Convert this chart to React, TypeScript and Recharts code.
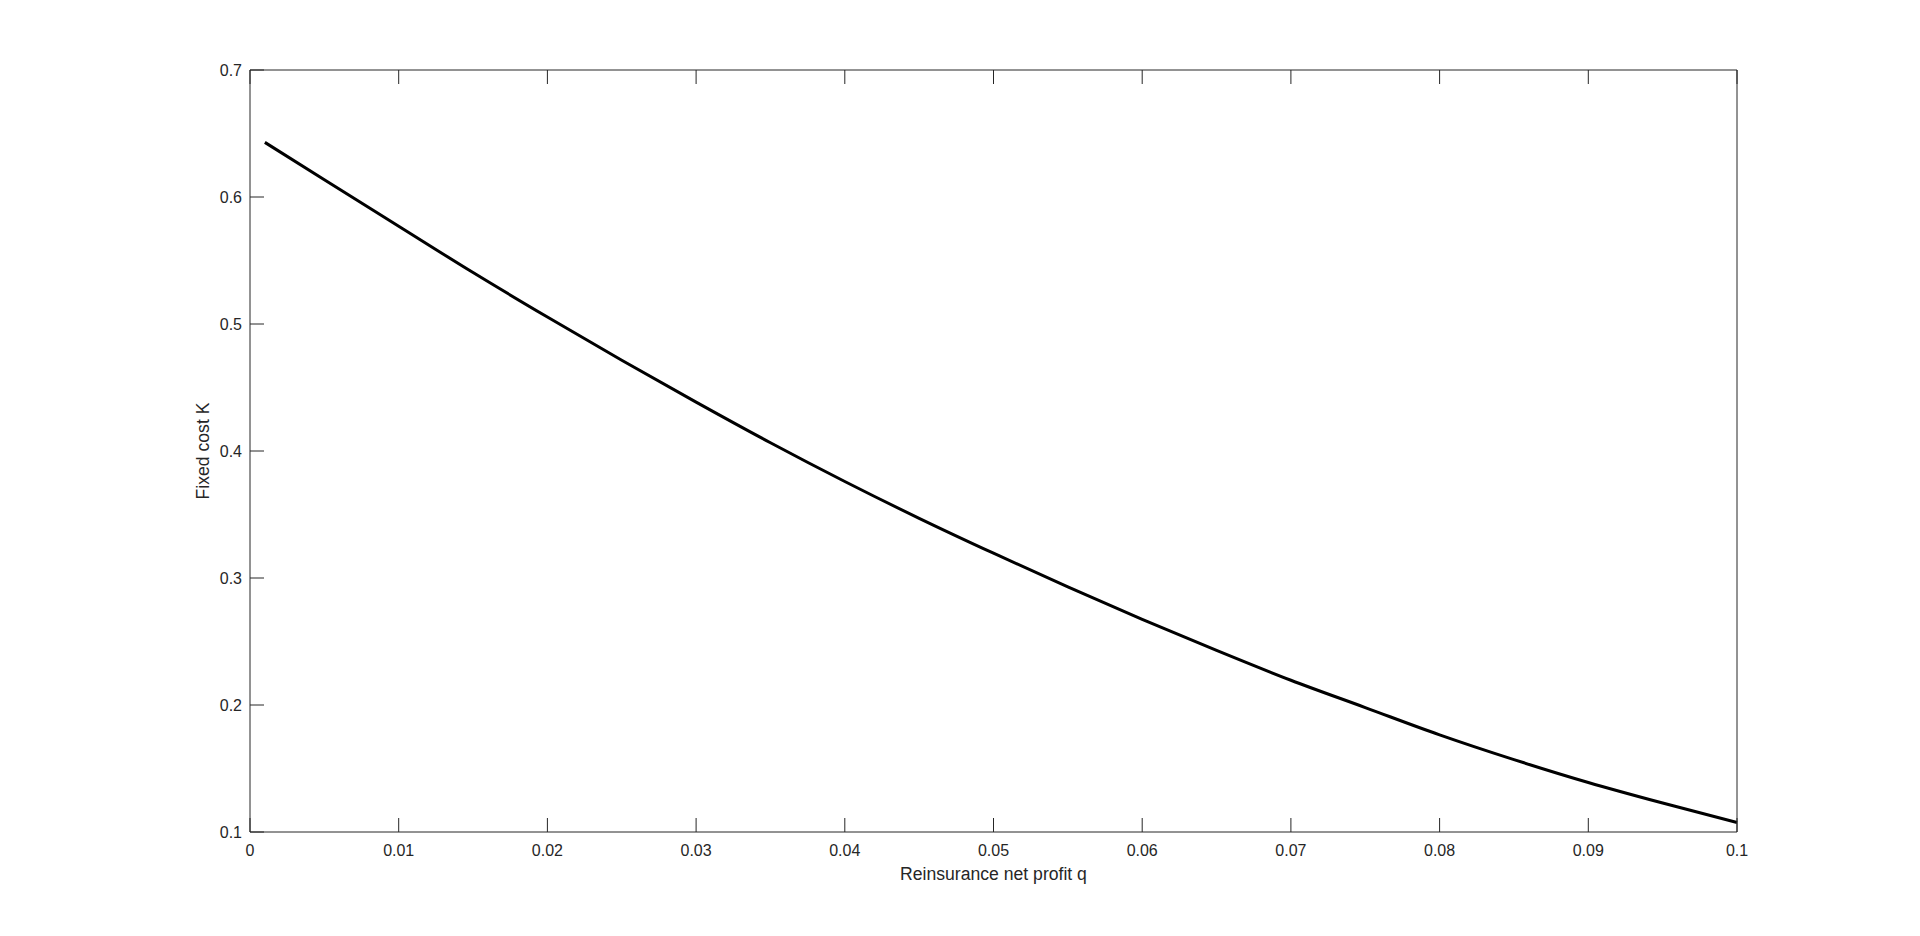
import React from 'react';
import { LineChart, Line, XAxis, YAxis } from 'recharts';

// reinsurance net profit q (x) and the fixed cost K
const qValues = [
    0.001, 0.005, 0.01, 0.015, 0.02, 0.025, 0.03, 0.035, 0.04, 0.045, 0.05,
    0.055, 0.06, 0.065, 0.07, 0.075, 0.08, 0.085, 0.09, 0.095, 0.1,
];
const kValues = [
    0.643, 0.6135, 0.577, 0.5405, 0.5055, 0.4715, 0.4385, 0.4065, 0.376, 0.347, 0.3195,
    0.293, 0.2675, 0.243, 0.2195, 0.198, 0.1765, 0.157, 0.139, 0.1228, 0.1075,
];

const xTicks = [0, 0.01, 0.02, 0.03, 0.04, 0.05, 0.06, 0.07, 0.08, 0.09, 0.1];
const yTicks = [0.1, 0.2, 0.3, 0.4, 0.5, 0.6, 0.7];

const data = qValues.map((q, i) => ({ q, k: kValues[i] }));

const AXIS = '#262626';
const FONT = 'Arial, "Liberation Sans", sans-serif';
const tickStyle = { fill: AXIS, fontSize: 16, fontFamily: FONT };
const blank = () => '';

export default function App() {
    return (
        <div style={{ position: 'absolute', left: 0, top: 0, background: '#fff' }}>
            <LineChart
                width={1920}
                height={936}
                data={data}
                margin={{ top: 69, right: 182, bottom: 74, left: 156 }}
            >
                <XAxis
                    xAxisId="bottom"
                    dataKey="q"
                    type="number"
                    domain={[0, 0.1]}
                    ticks={xTicks}
                    interval={0}
                    height={30}
                    stroke={AXIS}
                    tickSize={-14}
                    tickMargin={27}
                    tick={tickStyle}
                    tickFormatter={(v: number) => String(v)}
                    label={{
                        value: 'Reinsurance net profit q',
                        position: 'bottom',
                        offset: 6,
                        fill: AXIS,
                        fontSize: 17.6,
                        fontFamily: FONT,
                    }}
                />
                <XAxis
                    xAxisId="top"
                    orientation="top"
                    dataKey="q"
                    type="number"
                    domain={[0, 0.1]}
                    ticks={xTicks}
                    interval={0}
                    height={1}
                    stroke={AXIS}
                    tickSize={-14}
                    tick={tickStyle}
                    tickFormatter={blank}
                />
                <YAxis
                    yAxisId="left"
                    type="number"
                    domain={[0.1, 0.7]}
                    ticks={yTicks}
                    interval={0}
                    width={94}
                    stroke={AXIS}
                    tickSize={-14}
                    tickMargin={22}
                    tick={tickStyle}
                    tickFormatter={(v: number) => String(v)}
                    label={{
                        value: 'Fixed cost K',
                        angle: -90,
                        position: 'center',
                        fill: AXIS,
                        fontSize: 17.6,
                        fontFamily: FONT,
                    }}
                />
                <YAxis
                    yAxisId="right"
                    orientation="right"
                    type="number"
                    domain={[0.1, 0.7]}
                    ticks={yTicks}
                    interval={0}
                    width={1}
                    stroke={AXIS}
                    tickSize={-14}
                    tick={tickStyle}
                    tickFormatter={blank}
                />
                <Line
                    xAxisId="bottom"
                    yAxisId="left"
                    type="monotone"
                    dataKey="k"
                    stroke="#000"
                    strokeWidth={3}
                    dot={false}
                    isAnimationActive={false}
                />
            </LineChart>
        </div>
    );
}
